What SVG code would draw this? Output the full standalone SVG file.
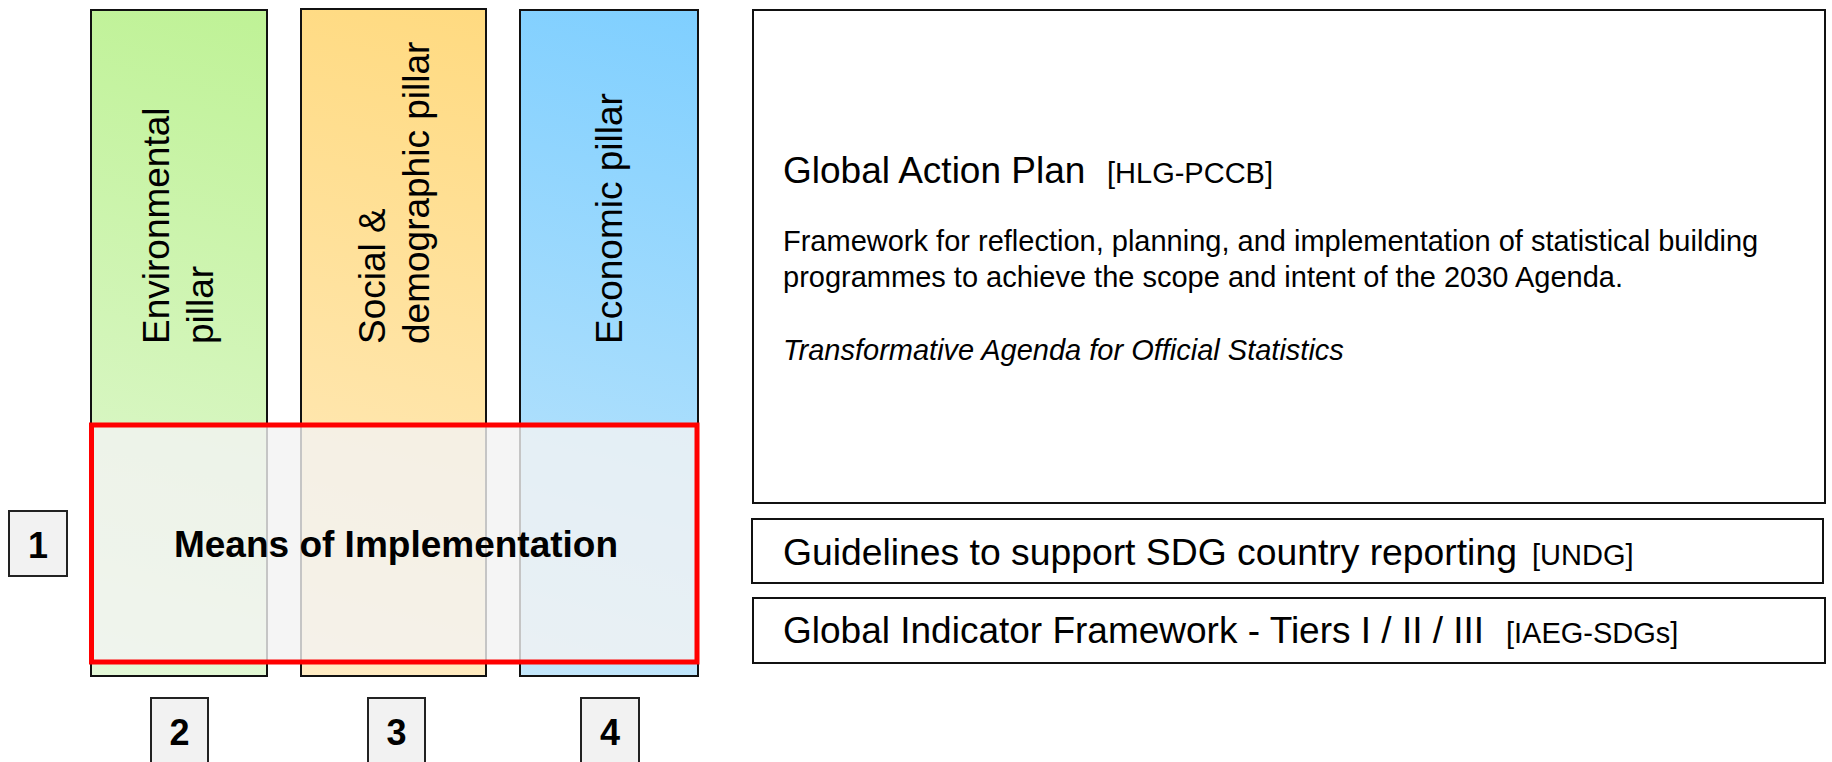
<svg xmlns="http://www.w3.org/2000/svg" width="1832" height="762" viewBox="0 0 1832 762">
  <defs>
    <linearGradient id="gGreen" gradientUnits="userSpaceOnUse" x1="267" y1="10" x2="91" y2="676">
      <stop offset="0" stop-color="#bff296"/>
      <stop offset="1" stop-color="#e4f8d8"/>
    </linearGradient>
    <linearGradient id="gOrange" gradientUnits="userSpaceOnUse" x1="486" y1="9" x2="301" y2="676">
      <stop offset="0" stop-color="#ffda80"/>
      <stop offset="1" stop-color="#ffecc4"/>
    </linearGradient>
    <linearGradient id="gBlue" gradientUnits="userSpaceOnUse" x1="698" y1="10" x2="520" y2="676">
      <stop offset="0" stop-color="#7fcfff"/>
      <stop offset="1" stop-color="#c4e7fb"/>
    </linearGradient>
    <style>
      text { font-family: "Liberation Sans", Arial, sans-serif; fill: #000; }
      .pillar { stroke: #111; stroke-width: 2; }
      .pt { font-size: 37px; }
      .num rect { fill: #f2f2f2; stroke: #222; stroke-width: 2; }
      .num text { font-size: 36px; font-weight: bold; text-anchor: middle; }
      .box { fill: #fff; stroke: #111; stroke-width: 2; }
      .big { font-size: 37px; }
      .small { font-size: 29px; }
    </style>
  </defs>
  <rect width="1832" height="762" fill="#fff"/>

  <g id="pillar-environmental">
    <rect class="pillar" x="91" y="10" width="176" height="666" fill="url(#gGreen)"/>
    <text class="pt" transform="translate(169,344) rotate(-90)"><tspan x="0" y="0">Environmental</tspan><tspan x="0" y="44">pillar</tspan></text>
  </g>
  <g id="pillar-social">
    <rect class="pillar" x="301" y="9" width="185" height="667" fill="url(#gOrange)"/>
    <text class="pt" transform="translate(385,344) rotate(-90)"><tspan x="0" y="0">Social &amp;</tspan><tspan x="0" y="44">demographic pillar</tspan></text>
  </g>
  <g id="pillar-economic">
    <rect class="pillar" x="520" y="10" width="178" height="666" fill="url(#gBlue)"/>
    <text class="pt" transform="translate(622,344) rotate(-90)">Economic pillar</text>
  </g>

  <g id="means-of-implementation">
    <rect x="91.5" y="425" width="605.5" height="237" fill="#f2f2f2" fill-opacity="0.8" stroke="#ff0000" stroke-width="5"/>
    <text x="396" y="557" font-size="37" font-weight="bold" text-anchor="middle">Means of Implementation</text>
  </g>

  <g id="num-1" class="num">
    <rect x="9" y="511" width="58" height="65"/>
    <text x="38" y="558">1</text>
  </g>
  <g id="num-2" class="num">
    <rect x="151" y="698" width="57" height="70"/>
    <text x="179.5" y="745">2</text>
  </g>
  <g id="num-3" class="num">
    <rect x="368" y="698" width="57" height="70"/>
    <text x="396.5" y="745">3</text>
  </g>
  <g id="num-4" class="num">
    <rect x="581" y="698" width="58" height="70"/>
    <text x="610" y="745">4</text>
  </g>

  <g id="global-action-plan">
    <rect class="box" x="753" y="10" width="1072" height="493"/>
    <text class="big" x="783" y="183">Global Action Plan</text>
    <text class="small" x="1107" y="183">[HLG-PCCB]</text>
    <text class="small" x="783" y="251">Framework for reflection, planning, and implementation of statistical building</text>
    <text class="small" x="783" y="287">programmes to achieve the scope and intent of the 2030 Agenda.</text>
    <text class="small" x="783" y="360" font-style="italic">Transformative Agenda for Official Statistics</text>
  </g>

  <g id="guidelines">
    <rect class="box" x="752" y="519" width="1071" height="64"/>
    <text x="783" y="565" font-size="37.3">Guidelines to support SDG country reporting</text>
    <text class="small" x="1532" y="565">[UNDG]</text>
  </g>

  <g id="indicator-framework">
    <rect class="box" x="753" y="598" width="1072" height="65"/>
    <text class="big" x="783" y="643">Global Indicator Framework - Tiers I / II / III</text>
    <text class="small" x="1506" y="643">[IAEG-SDGs]</text>
  </g>

  <g id="connectors"></g>
</svg>
